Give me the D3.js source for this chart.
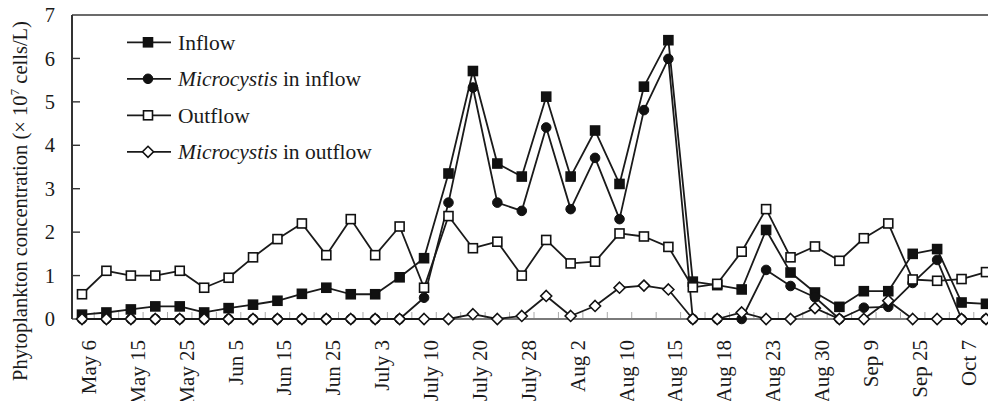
<!DOCTYPE html>
<html>
<head>
<meta charset="utf-8">
<script src="https://cdn.jsdelivr.net/npm/d3@7"></script>
<style>
  html, body { margin: 0; padding: 0; background: #fff; }
  svg { display: block; }
  text { font-family: "Liberation Serif", "Times New Roman", serif; fill: #1a1a1a; }
</style>
</head>
<body>
<svg id="chart" width="988" height="401"></svg>
<script>
// Sampling dates shown on the axis (every second sample is labelled)
const dateLabels = ["May 6", "May 15", "May 25", "Jun 5", "Jun 15", "Jun 25", "July 3",
  "July 10", "July 20", "July 28", "Aug 2", "Aug 10", "Aug 15", "Aug 18", "Aug 23",
  "Aug 30", "Sep 9", "Sep 25", "Oct 7"];

// Phytoplankton concentration, ×10^7 cells/L, one value per sample
const inflow = [0.10, 0.15, 0.22, 0.29, 0.29, 0.15, 0.25, 0.33, 0.42, 0.58, 0.72, 0.57, 0.57, 0.96,
  1.40, 3.35, 5.71, 3.58, 3.28, 5.12, 3.28, 4.34, 3.11, 5.35, 6.42,
  0.86, 0.78, 0.68, 2.05, 1.07, 0.61, 0.28, 0.64, 0.64, 1.50, 1.61, 0.38, 0.35];
const microcystisInflow = [0, 0, 0, 0, 0, 0, 0, 0, 0, 0, 0, 0, 0, 0,
  0.49, 2.68, 5.33, 2.68, 2.49, 4.41, 2.53, 3.71, 2.30, 4.81, 5.99,
  0, 0, 0, 1.13, 0.76, 0.50, 0, 0.26, 0.28, 0.83, 1.36, 0, 0];
const outflow = [0.57, 1.11, 1.00, 1.00, 1.11, 0.72, 0.95, 1.42, 1.84, 2.20, 1.47, 2.30, 1.47, 2.13,
  0.72, 2.37, 1.63, 1.78, 1.00, 1.82, 1.28, 1.32, 1.97, 1.90, 1.66,
  0.73, 0.81, 1.55, 2.53, 1.42, 1.67, 1.34, 1.86, 2.20, 0.91, 0.88, 0.92, 1.08];
const microcystisOutflow = [0, 0, 0, 0, 0, 0, 0, 0, 0, 0, 0, 0, 0, 0,
  0, 0, 0.11, 0, 0.07, 0.53, 0.07, 0.30, 0.72, 0.77, 0.68,
  0, 0, 0.15, 0, 0, 0.25, 0, 0, 0.42, 0, 0, 0, 0];

const yTicks = [0, 1, 2, 3, 4, 5, 6, 7];

const series = [
  { name: "Inflow", values: inflow, marker: "square", fill: "#111" },
  { name: "in inflow", italic: "Microcystis", values: microcystisInflow, marker: "circle", fill: "#111" },
  { name: "Outflow", values: outflow, marker: "square", fill: "#fff" },
  { name: "in outflow", italic: "Microcystis", values: microcystisOutflow, marker: "diamond", fill: "#fff" }
];

const svg = d3.select("#chart");
const plot = { left: 72, top: 15, right: 999, bottom: 319 };

const idx = d3.range(inflow.length);
const x = d3.scalePoint().domain(idx).range([82, 986]);
const step = x.step();
const y = d3.scaleLinear().domain([0, 7]).range([plot.bottom, plot.top]);

// plot frame (top edge)
svg.append("line")
  .attr("x1", plot.left).attr("x2", plot.right)
  .attr("y1", plot.top).attr("y2", plot.top)
  .attr("stroke", "#3a3a3a").attr("stroke-width", 1.4);

// x axis: category boundary ticks pointing up
const xAxis = svg.append("g");
xAxis.selectAll("line.tick")
  .data(idx.slice(0, -1))
  .join("line")
  .attr("class", "tick")
  .attr("x1", d => x(d) + step / 2).attr("x2", d => x(d) + step / 2)
  .attr("y1", plot.bottom).attr("y2", plot.bottom - 7)
  .attr("stroke", "#aaa").attr("stroke-width", 1);
xAxis.append("line")
  .attr("x1", plot.left).attr("x2", plot.right)
  .attr("y1", plot.bottom).attr("y2", plot.bottom)
  .attr("stroke", "#7a7a7a").attr("stroke-width", 2);

// date labels, rotated, every second sample
xAxis.selectAll("text")
  .data(dateLabels)
  .join("text")
  .attr("transform", (d, i) => `translate(${x(i * 2) + 14},${plot.bottom + 21}) rotate(-90)`)
  .attr("text-anchor", "end")
  .attr("font-size", 21)
  .text(d => d);

// y axis with inward ticks
const yAxis = svg.append("g");
yAxis.append("line")
  .attr("x1", plot.left).attr("x2", plot.left)
  .attr("y1", plot.top).attr("y2", plot.bottom)
  .attr("stroke", "#333").attr("stroke-width", 2);
yAxis.selectAll("line.tick")
  .data(yTicks.slice(1, -1))
  .join("line")
  .attr("class", "tick")
  .attr("x1", plot.left).attr("x2", plot.left + 8)
  .attr("y1", d => y(d)).attr("y2", d => y(d))
  .attr("stroke", "#333").attr("stroke-width", 1.4);
yAxis.selectAll("text")
  .data(yTicks)
  .join("text")
  .attr("x", 55).attr("y", d => y(d))
  .attr("dy", "0.35em")
  .attr("text-anchor", "end")
  .attr("font-size", 20.5)
  .text(d => d);

// y axis title
const title = svg.append("text")
  .attr("transform", `translate(27,${(plot.top + 385) / 2 + 1}) rotate(-90)`)
  .attr("text-anchor", "middle")
  .attr("font-size", 20.5);
title.append("tspan").text("Phytoplankton concentration (× 10");
title.append("tspan").attr("font-size", 13.5).attr("dy", -8).text("7");
title.append("tspan").attr("dy", 8).text(" cells/L)");

// marker drawing
function drawMarker(sel, kind, fill) {
  if (kind === "square") {
    sel.append("rect").attr("x", -4.5).attr("y", -4.5).attr("width", 9).attr("height", 9)
      .attr("fill", fill).attr("stroke", "#111").attr("stroke-width", 1.6);
  } else if (kind === "circle") {
    sel.append("circle").attr("r", 4.8).attr("fill", fill).attr("stroke", "#111").attr("stroke-width", 1);
  } else {
    sel.append("path").attr("d", "M0,-5.5L5.5,0L0,5.5L-5.5,0Z")
      .attr("fill", fill).attr("stroke", "#111").attr("stroke-width", 1.6);
  }
}

const line = d3.line().x((d, i) => x(i)).y(d => y(d));

series.forEach(s => {
  const g = svg.append("g");
  g.append("path")
    .attr("d", line(s.values))
    .attr("fill", "none").attr("stroke", "#1a1a1a").attr("stroke-width", 1.8)
    .attr("stroke-linejoin", "round");
  g.selectAll("g.pt")
    .data(s.values)
    .join("g")
    .attr("class", "pt")
    .attr("transform", (d, i) => `translate(${x(i)},${y(d)})`)
    .each(function () { drawMarker(d3.select(this), s.marker, s.fill); });
});

// legend
const legend = svg.append("g");
series.forEach((s, i) => {
  const ly = 42.3 + i * 36.5;
  const row = legend.append("g").attr("transform", `translate(0,${ly})`);
  row.append("line").attr("x1", 127).attr("x2", 171).attr("y1", 0).attr("y2", 0)
    .attr("stroke", "#1a1a1a").attr("stroke-width", 1.8);
  const m = row.append("g").attr("transform", "translate(148,0)");
  drawMarker(m, s.marker, s.fill);
  const t = row.append("text").attr("x", 178).attr("y", 7.5).attr("font-size", 21.5);
  if (s.italic) {
    t.append("tspan").attr("font-style", "italic").text(s.italic);
    t.append("tspan").text(" " + s.name);
  } else {
    t.text(s.name);
  }
});
</script>
</body>
</html>
